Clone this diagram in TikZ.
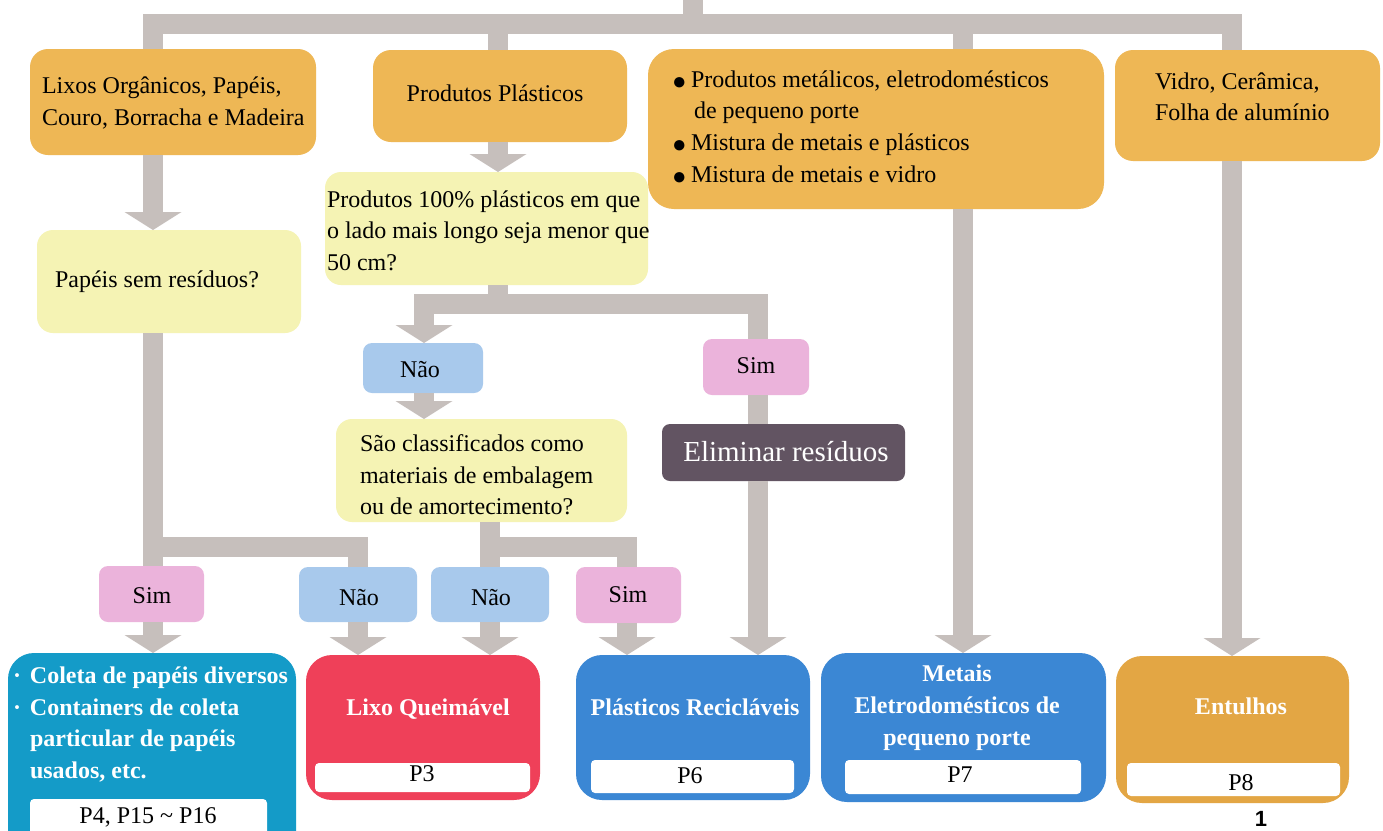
\documentclass[tikz,border=0pt]{standalone}
\usepackage{fontspec}
\setmainfont{Liberation Serif}
\newfontfamily\pagefont{Liberation Sans}
\usetikzlibrary{arrows.meta}
\definecolor{pipec}{RGB}{198,191,188}
\definecolor{orangec}{RGB}{238,183,85}
\definecolor{yellowc}{RGB}{245,243,180}
\definecolor{bluelab}{RGB}{168,201,236}
\definecolor{pinklab}{RGB}{235,179,219}
\definecolor{darkc}{RGB}{98,84,98}
\definecolor{tealc}{RGB}{20,155,200}
\definecolor{redc}{RGB}{239,64,89}
\definecolor{bluec}{RGB}{59,135,212}
\definecolor{entc}{RGB}{227,166,68}
\newcommand\bul{{\fontsize{24}{24}\selectfont\raisebox{-2pt}{●}}}
\begin{document}
\begin{tikzpicture}[x=1pt,y=-1pt,
  every node/.style={inner sep=0pt, outer sep=0pt},
  sz/.style 2 args={minimum width=#1pt, minimum height=#2pt},
  obox/.style={fill=orangec, rounded corners=18pt},
  ybox/.style={fill=yellowc, rounded corners=16pt},
  nbox/.style={fill=bluelab, rounded corners=9pt},
  sbox/.style={fill=pinklab, rounded corners=9pt},
  dbox/.style={fill=darkc, rounded corners=8pt},
  fin/.style={rounded corners=26pt},
  pbox/.style={fill=white, rounded corners=4pt},
  tx/.style={font=\fontsize{24}{31.7}\selectfont, align=left},
  wt/.style={text=white, font=\bfseries\fontsize{24}{31.7}\selectfont, align=center},
  pipe/.style={draw=pipec, line width=20pt},
  arr/.style={pipe, -{Triangle[length=18pt, width=57pt, line width=0pt]}}
]
\useasboundingbox (0,0) rectangle (1383,830);
\fill[white] (0,0) rectangle (1383,830);

% ---------- boxes ----------
\node[obox, sz={286}{106}] (lixos) at (173,102) {};
\node[obox, sz={254}{92}] (plast) at (500,96) {};
\node[obox, sz={456}{160}, rounded corners=26pt] (metal) at (876,129) {};
\node[obox, sz={265}{111}] (vidro) at (1247.5,105.5) {};
\node[ybox, sz={264}{103}] (papeis) at (169,281.5) {};
\node[ybox, sz={323}{113}] (p100) at (486.5,228.5) {};
\node[nbox, sz={120}{50}] (nao1) at (423,368) {};
\node[sbox, sz={106}{56}] (sim1) at (756,367) {};
\node[ybox, sz={291}{103}] (sao) at (481.5,470.5) {};
\node[dbox, sz={243}{57}] (elim) at (783.5,452.5) {};
\node[sbox, sz={105}{56}] (simA) at (151.5,594) {};
\node[nbox, sz={118}{55}] (naoA) at (358,594.5) {};
\node[nbox, sz={118}{55}] (naoB) at (490,594.5) {};
\node[sbox, sz={105}{56}] (simB) at (628.5,595) {};
\node[fin, fill=tealc, sz={288}{207}] (coleta) at (152,756.5) {};
\node[fin, fill=redc, sz={234}{145}] (lixoq) at (423,727.5) {};
\node[fin, fill=bluec, sz={234}{145}] (plrec) at (693,727.5) {};
\node[fin, fill=bluec, sz={285}{149}] (metais) at (963.5,727.5) {};
\node[fin, fill=entc, sz={233}{147}] (entulhos) at (1232.5,729.5) {};
\node[pbox, sz={237}{46}] (coletaP) at (148.5,822) {};
\node[pbox, sz={215}{29}] (lixoqP) at (422.5,777.5) {};
\node[pbox, sz={203}{33}] (plrecP) at (692.5,776.5) {};
\node[pbox, sz={236}{34}] (metaisP) at (963,777) {};
\node[pbox, sz={213}{33}] (entP) at (1233.5,779.5) {};

% ---------- texts ----------
\node[tx, anchor=north west] (tlixos) at (42,71.8)
  {\strut Lixos Orgânicos, Papéis,\\Couro, Borracha e Madeira};
\node[tx, anchor=base] (tplast) at (495,101.7) {Produtos Plásticos};
\node[tx, anchor=north west] (tmetal) at (672,65.1)
  {\strut\makebox[19pt][l]{\bul}Produtos metálicos, eletrodomésticos\\
   \hspace*{22pt}de pequeno porte\\
   \makebox[19pt][l]{\bul}Mistura de metais e plásticos\\
   \makebox[19pt][l]{\bul}Mistura de metais e vidro};
\node[tx, anchor=north west, font=\fontsize{24}{30.7}\selectfont] (tvidro) at (1155,68.5)
  {\strut Vidro, Cerâmica,\\Folha de alumínio};
\node[tx, anchor=base west] (tpapeis) at (55,287) {Papéis sem resíduos?};
\node[tx, anchor=north west, font=\fontsize{24}{31.4}\selectfont] (tp100) at (327,185.3)
  {\strut Produtos 100\% plásticos em que\\o lado mais longo seja menor que\\50 cm?};
\node[tx, anchor=base] (tnao1) at (420,377.3) {Não};
\node[tx, anchor=base] (tsim1) at (756,373.3) {Sim};
\node[tx, anchor=north west, font=\fontsize{24}{31.6}\selectfont] (tsao) at (360,429.6)
  {\strut São classificados como\\materiais de embalagem\\ou de amortecimento?};
\node[anchor=base, text=white, font=\fontsize{29}{34}\selectfont] (telim) at (786,461.7) {Eliminar resíduos};
\node[tx, anchor=base] (tsimA) at (152,603.3) {Sim};
\node[tx, anchor=base] (tnaoA) at (359,605) {Não};
\node[tx, anchor=base] (tnaoB) at (491,605) {Não};
\node[tx, anchor=base] (tsimB) at (628,602.7) {Sim};
\node[wt, align=left, anchor=north west] (tcoleta) at (13,661.1)
  {\strut\makebox[17pt][l]{·}Coleta de papéis diversos\\
   \makebox[17pt][l]{·}Containers de coleta\\
   \hspace*{17pt}particular de papéis\\
   \hspace*{17pt}usados, etc.};
\node[tx, anchor=base] (tcoletaP) at (148,823.3) {P4, P15 \textasciitilde\ P16};
\node[wt, anchor=base] (tlixoq) at (428,715) {Lixo Queimável};
\node[tx, anchor=base] (tlixoqP) at (422,781.7) {P3};
\node[wt, anchor=base] (tplrec) at (695,715) {Plásticos Recicláveis};
\node[tx, anchor=base] (tplrecP) at (690,783) {P6};
\node[wt, anchor=north] (tmetais) at (957,659.5)
  {\strut Metais\\Eletrodomésticos de\\pequeno porte};
\node[tx, anchor=base] (tmetaisP) at (960,782.7) {P7};
\node[wt, anchor=base] (tent) at (1241,714) {Entulhos};
\node[tx, anchor=base] (tentP) at (1241,790) {P8};
\node[anchor=base, font=\pagefont\bfseries\fontsize{22}{26}\selectfont] (pnum) at (1261,826) {1};

% ---------- connectors ----------
\coordinate (top) at (693,-2);
\coordinate (jt) at (693,23.5);
\draw[pipe] (top) -- (jt);
\draw[pipe] ([xshift=-20pt]lixos.north) |- (jt) -| ([xshift=-15.5pt]vidro.north);
\draw[pipe] ([xshift=-2pt]plast.north) |- (jt);
\draw[pipe] ([xshift=87pt]metal.north) |- (jt);

\draw[arr] ([xshift=-20pt]lixos.south) -- ([xshift=-16pt]papeis.north);
\draw[arr] ([xshift=-2pt]plast.south) -- ([xshift=11.5pt]p100.north);

\coordinate (j2) at (498,304);
\draw[arr] ([xshift=11.5pt]p100.south) -- (j2) -| ([xshift=1pt]nao1.north);
\draw[pipe] (j2) -| ([xshift=2pt]sim1.north);
\draw[arr] ([xshift=1pt]nao1.south) -- ([xshift=-57.5pt]sao.north);
\draw[pipe] ([xshift=2pt]sim1.south) -- ([xshift=-25.5pt]elim.north);
\draw[arr] ([xshift=-25.5pt]elim.south) -- ([xshift=65pt]plrec.north);

\draw[arr] ([xshift=87pt]metal.south) -- ([xshift=-0.5pt]metais.north);
\draw[arr] ([xshift=-15.5pt]vidro.south) -- ([xshift=-0.5pt]entulhos.north);

\coordinate (j3) at (153,546.5);
\draw[pipe] ([xshift=-16pt]papeis.south) -- ([xshift=1.5pt]simA.north);
\draw[pipe] (j3) -| (naoA.north);
\coordinate (j4) at (490,546.5);
\draw[pipe] ([xshift=8.5pt]sao.south) -- (naoB.north);
\draw[pipe] (j4) -| ([xshift=-1.5pt]simB.north);

\draw[arr] ([xshift=1.5pt]simA.south) -- ([xshift=1pt]coleta.north);
\draw[arr] (naoA.south) -- ([xshift=-65pt]lixoq.north);
\draw[arr] (naoB.south) -- ([xshift=67pt]lixoq.north);
\draw[arr] ([xshift=-1.5pt]simB.south) -- ([xshift=-66pt]plrec.north);
\end{tikzpicture}
\end{document}
